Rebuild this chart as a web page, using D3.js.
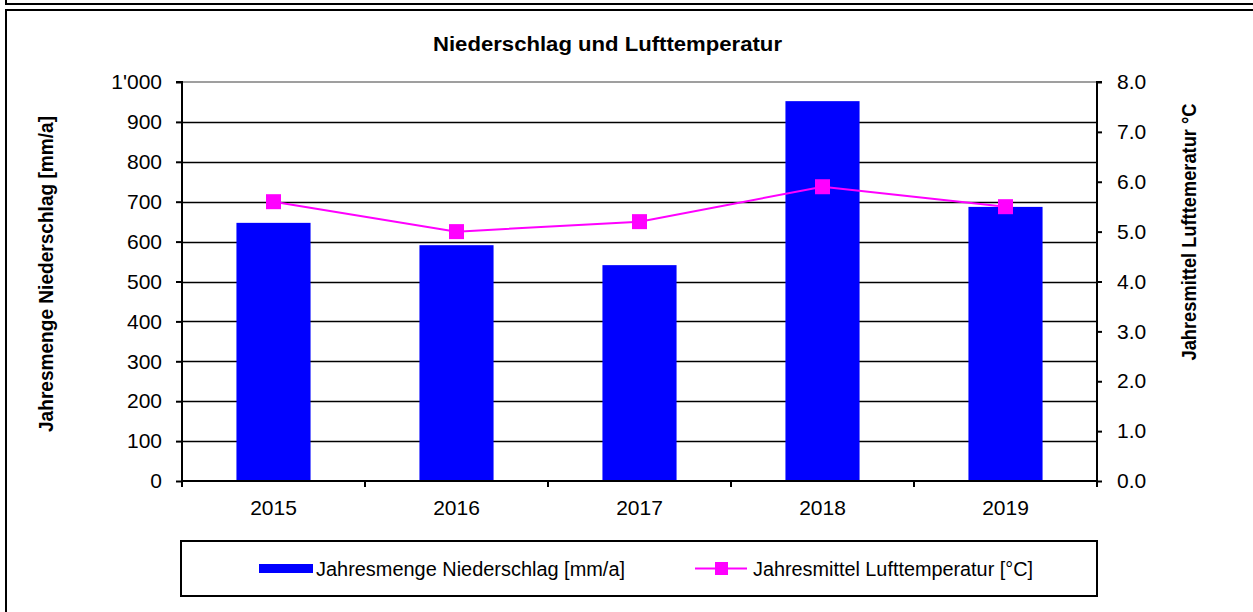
<!DOCTYPE html>
<html>
<head>
<meta charset="utf-8">
<script src="https://cdn.jsdelivr.net/npm/d3@7"></script>
<style>
  html, body { margin: 0; padding: 0; background: #fff; }
  svg { display: block; font-family: Arial, "Liberation Sans", sans-serif; }
</style>
</head>
<body>
<svg id="chart" width="1253" height="612"></svg>
<script>
// Daten
const jahre = ['2015', '2016', '2017', '2018', '2019'];
const niederschlag = [647, 591, 541, 952, 687];
const temperatur = [5.6, 5.0, 5.2, 5.9, 5.5];
const tickNiederschlag = [0, 100, 200, 300, 400, 500, 600, 700, 800, 900, 1000];
const tickTemperatur = [0, 1, 2, 3, 4, 5, 6, 7, 8];

const svg = d3.select('#chart');

// Rahmen (Diagrammbereich)
svg.append('path').attr('d', 'M6,0 V4 H1253').attr('fill', 'none').attr('stroke', '#000').attr('stroke-width', 2);
svg.append('rect').attr('x', 6).attr('y', 10).attr('width', 1270).attr('height', 700)
    .attr('fill', '#fff').attr('stroke', '#000').attr('stroke-width', 2);

const plot = { left: 182, right: 1097, top: 82, bottom: 481 };

const x = d3.scaleBand().domain(jahre).range([plot.left, plot.right]).paddingInner(0).paddingOuter(0);
const yL = d3.scaleLinear().domain([0, 1000]).range([plot.bottom, plot.top]);
const yR = d3.scaleLinear().domain([0, 8]).range([plot.bottom, plot.top]);

// Titel
svg.append('text')
    .attr('x', 433).attr('y', 51)
    .attr('font-size', '20px').attr('font-weight', 'bold')
    .attr('textLength', 349).attr('lengthAdjust', 'spacingAndGlyphs')
    .text('Niederschlag und Lufttemperatur');

// Plotbereich-Rahmen grau
svg.append('rect')
    .attr('x', plot.left).attr('y', plot.top)
    .attr('width', plot.right - plot.left).attr('height', plot.bottom - plot.top)
    .attr('fill', 'none').attr('stroke', '#808080').attr('stroke-width', 1.5);

// Gitterlinien
svg.append('g').selectAll('line')
    .data(tickNiederschlag.filter(d => d > 0 && d < 1000))
    .enter().append('line')
    .attr('x1', plot.left).attr('x2', plot.right)
    .attr('y1', d => Math.round(yL(d)) + 0.5).attr('y2', d => Math.round(yL(d)) + 0.5)
    .attr('stroke', '#000').attr('stroke-width', 1.5);

// Balken
const bw = x.bandwidth() * 0.405;
svg.append('g').selectAll('rect')
    .data(niederschlag)
    .enter().append('rect')
    .attr('x', (d, i) => x(jahre[i]) + x.bandwidth() / 2 - bw / 2)
    .attr('width', bw)
    .attr('y', d => yL(d))
    .attr('height', d => yL(0) - yL(d))
    .attr('fill', '#0000ff');

// Achsen
const axisL = d3.axisLeft(yL).tickValues(tickNiederschlag).tickSize(6).tickPadding(14)
    .tickFormat(d => d === 1000 ? "1'000" : d);
const gL = svg.append('g').attr('transform', `translate(${plot.left},0)`).call(axisL);

const axisR = d3.axisRight(yR).tickValues(tickTemperatur).tickSize(5).tickPadding(15)
    .tickFormat(d3.format('.1f'));
const gR = svg.append('g').attr('transform', `translate(${plot.right},0)`).call(axisR);

const axisB = d3.axisBottom(x).tickSize(0).tickPadding(19);
const gB = svg.append('g').attr('transform', `translate(0,${plot.bottom})`).call(axisB);

// Kategorie-Grenzen als Ticks
svg.append('g').selectAll('line')
    .data(jahre.concat(['end']))
    .enter().append('line')
    .attr('x1', (d, i) => plot.left + i * x.step()).attr('x2', (d, i) => plot.left + i * x.step())
    .attr('y1', plot.bottom).attr('y2', plot.bottom + 6)
    .attr('stroke', '#000').attr('stroke-width', 2);

[gL, gR, gB].forEach(g => {
    g.select('.domain').attr('stroke', '#000').attr('stroke-width', 2);
    g.selectAll('.tick line').attr('stroke', '#000').attr('stroke-width', 2);
    g.selectAll('.tick text').attr('font-size', '21px').attr('fill', '#000')
        .attr('font-family', 'Arial, "Liberation Sans", sans-serif');
});
gL.select('.domain').attr('d', `M-6,${plot.top}H0V${plot.bottom + 6}`);
gR.select('.domain').attr('d', `M5,${plot.top}H0V${plot.bottom}`);
gB.select('.domain').attr('d', `M${plot.left},0H${plot.right}`);

// Temperaturlinie
const line = d3.line()
    .x((d, i) => x(jahre[i]) + x.bandwidth() / 2)
    .y(d => yR(d));
svg.append('path')
    .datum(temperatur)
    .attr('d', line)
    .attr('fill', 'none').attr('stroke', '#ff00ff').attr('stroke-width', 2);

const ms = 15;
svg.append('g').selectAll('rect')
    .data(temperatur)
    .enter().append('rect')
    .attr('x', (d, i) => x(jahre[i]) + x.bandwidth() / 2 - ms / 2)
    .attr('y', d => yR(d) - ms / 2)
    .attr('width', ms).attr('height', ms)
    .attr('fill', '#ff00ff');

// Achsentitel
svg.append('text')
    .attr('transform', 'translate(53,274) rotate(-90)')
    .attr('text-anchor', 'middle')
    .attr('font-size', '20px').attr('font-weight', 'bold')
    .attr('textLength', 316).attr('lengthAdjust', 'spacingAndGlyphs')
    .text('Jahresmenge Niederschlag [mm/a]');

svg.append('text')
    .attr('transform', 'translate(1196,232) rotate(-90)')
    .attr('text-anchor', 'middle')
    .attr('font-size', '20px').attr('font-weight', 'bold')
    .attr('textLength', 257).attr('lengthAdjust', 'spacingAndGlyphs')
    .text('Jahresmittel Lufttemeratur °C');

// Legende
const leg = svg.append('g');
leg.append('rect')
    .attr('x', 181).attr('y', 541).attr('width', 916).attr('height', 55)
    .attr('fill', '#fff').attr('stroke', '#000').attr('stroke-width', 2);
leg.append('rect')
    .attr('x', 259).attr('y', 564).attr('width', 54).attr('height', 9)
    .attr('fill', '#0000ff');
leg.append('text')
    .attr('x', 316).attr('y', 576)
    .attr('font-size', '20px')
    .attr('textLength', 309).attr('lengthAdjust', 'spacingAndGlyphs')
    .text('Jahresmenge Niederschlag [mm/a]');
leg.append('line')
    .attr('x1', 695).attr('x2', 747).attr('y1', 568.5).attr('y2', 568.5)
    .attr('stroke', '#ff00ff').attr('stroke-width', 2);
leg.append('rect')
    .attr('x', 715).attr('y', 562).attr('width', 13).attr('height', 13)
    .attr('fill', '#ff00ff');
leg.append('text')
    .attr('x', 753).attr('y', 576)
    .attr('font-size', '20px')
    .attr('textLength', 280).attr('lengthAdjust', 'spacingAndGlyphs')
    .text('Jahresmittel Lufttemperatur [°C]');
</script>
</body>
</html>
